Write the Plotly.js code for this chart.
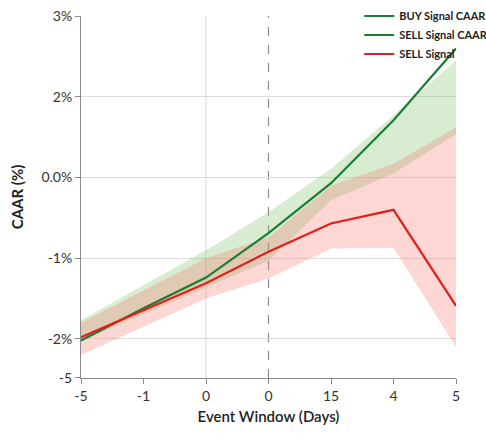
<!DOCTYPE html>
<html>
<head>
<meta charset="utf-8">
<script src="https://cdn.plot.ly/plotly-3.0.1.min.js"></script>
<style>html,body{margin:0;padding:0;background:#fff;}#chart{width:486px;height:446px;}</style>
</head>
<body>
<div id="chart"></div>
<script>
// Event-window tick labels (as printed on the original) and their evenly spaced positions
const xLabels = ["-5", "-1", "0", "0", "15", "4", "5"];
const xPos = [0, 1, 2, 3, 4, 5, 6];

// Y-axis tick labels as printed; positions on the evenly spaced plotting scale
const yLabels = ["-5", "-2%", "-1%", "0.0%", "2%", "3%"];
const yTickPos = [-2.48, -2, -1, 0, 1, 2];

// Series (in plotting-scale units)
const buyCaar = [-2.02, -1.62, -1.24, -0.69, -0.07, 0.71, 1.60];
const sellCaar = [-1.98, -1.65, -1.31, -0.92, -0.57, -0.40, -1.59];

// Confidence bands
const buyUpper = [-1.77, -1.34, -0.90, -0.43, 0.11, 0.77, 1.45];
const buyLower = [-2.03, -1.70, -1.37, -1.03, -0.28, 0.05, 0.54];
const sellUpper = [-1.80, -1.40, -1.00, -0.74, -0.10, 0.17, 0.62];
const sellLower = [-2.20, -1.85, -1.50, -1.25, -0.88, -0.87, -2.10];

const GREEN = "#1b7d33";
const RED = "#e0201e";

const traces = [
  {x: xPos, y: buyLower, type: "scatter", mode: "lines", line: {width: 0, color: "rgba(0,0,0,0)"}, showlegend: false, hoverinfo: "skip"},
  {x: xPos, y: buyUpper, type: "scatter", mode: "lines", line: {width: 0, color: "rgba(0,0,0,0)"}, fill: "tonexty", fillcolor: "rgba(130,195,110,0.32)", showlegend: false, hoverinfo: "skip"},
  {x: xPos, y: sellLower, type: "scatter", mode: "lines", line: {width: 0, color: "rgba(0,0,0,0)"}, showlegend: false, hoverinfo: "skip"},
  {x: xPos, y: sellUpper, type: "scatter", mode: "lines", line: {width: 0, color: "rgba(0,0,0,0)"}, fill: "tonexty", fillcolor: "rgba(245,130,120,0.32)", showlegend: false, hoverinfo: "skip"},
  {x: xPos, y: buyCaar, type: "scatter", mode: "lines", name: "BUY Signal CAAR", line: {color: GREEN, width: 2.2}},
  {x: [null], y: [null], type: "scatter", mode: "lines", name: "SELL Signal CAAR", line: {color: GREEN, width: 2.2}},
  {x: xPos, y: sellCaar, type: "scatter", mode: "lines", name: "SELL Signal", line: {color: RED, width: 2.2}}
];

const layout = {
  width: 486, height: 446,
  margin: {l: 81, r: 30, t: 16, b: 68, autoexpand: false},
  paper_bgcolor: "#fff", plot_bgcolor: "#fff",
  font: {family: "Lato, 'Open Sans', sans-serif", size: 14, color: "#333"},
  showlegend: true,
  legend: {
    x: 0.742, y: 1.04, xanchor: "left", yanchor: "top",
    bgcolor: "rgba(0,0,0,0)", borderwidth: 0,
    font: {family: "Lato, sans-serif", size: 11, color: "#222", weight: "bold"},
    tracegroupgap: 0, traceorder: "normal"
  },
  xaxis: {
    range: [0, 6], automargin: false,
    tickmode: "array", tickvals: xPos, ticktext: xLabels,
    showgrid: false, zeroline: false,
    showline: true, linecolor: "#8a8a8a", linewidth: 1,
    ticks: "outside", ticklen: 5, tickcolor: "#8a8a8a",
    tickfont: {size: 14, color: "#333"},
    title: {text: "Event Window (Days)", font: {size: 15, color: "#222", weight: 600}, standoff: 8}
  },
  yaxis: {
    range: [-2.485, 2.003], automargin: false,
    tickmode: "array", tickvals: yTickPos, ticktext: yLabels,
    showgrid: true, gridcolor: "#dcdcdc", gridwidth: 1, zeroline: false,
    showline: true, linecolor: "#8a8a8a", linewidth: 1,
    ticks: "outside", ticklen: 5, tickcolor: "#8a8a8a",
    tickfont: {size: 14, color: "#333"},
    title: {text: "CAAR (%)", font: {size: 15, color: "#222", weight: "bold"}, standoff: 14}
  },
  shapes: [
    {type: "line", xref: "x", yref: "paper", x0: xPos[2], x1: xPos[2], y0: 0, y1: 1, line: {color: "#d6d6d6", width: 1}, layer: "below"},
    {type: "line", xref: "x", yref: "paper", x0: xPos[3], x1: xPos[3], y0: 0, y1: 1, line: {color: "#8c8c8c", width: 1.2, dash: "dash"}, layer: "below"},
    {type: "rect", xref: "paper", yref: "paper", x0: 0.765, x1: 1.08, y0: 0.975, y1: 1.03, fillcolor: "#fff", line: {width: 0}, layer: "above"}
  ]
};

Plotly.newPlot("chart", traces, layout, {displayModeBar: false, staticPlot: true});
</script>
</body>
</html>
